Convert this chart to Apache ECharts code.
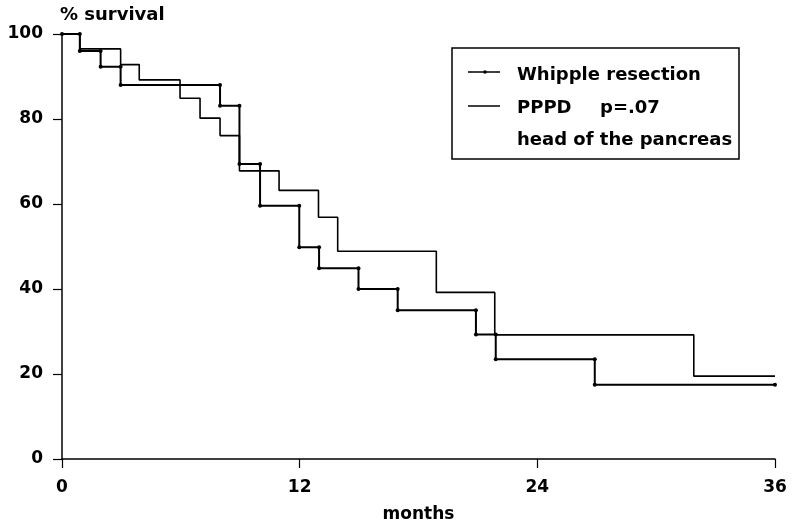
<!DOCTYPE html>
<html>
<head>
<meta charset="utf-8">
<script src="https://cdn.jsdelivr.net/npm/echarts@6/dist/echarts.min.js"></script>
<style>html,body{margin:0;padding:0;background:#fff;}#c{width:792px;height:528px;}</style>
</head>
<body>
<div id="c"></div>
<script>
// Kaplan-Meier step data: event times (months) and survival (%) after each step
const whippleMonths   = [0, 0.9, 1.95, 2.96, 7.98, 8.96, 10.0, 11.98, 12.98, 14.97, 16.95, 20.9, 21.9, 26.9];
const whippleSurvival = [100, 96, 92.3, 88, 83.1, 69.4, 59.6, 49.8, 44.9, 40, 35, 29.3, 23.5, 17.5];
const whippleEnd = 36;

const ppdMonths   = [0, 0.9, 2.96, 3.9, 5.96, 6.97, 7.98, 8.96, 10.96, 12.95, 13.92, 18.9, 21.85, 31.9];
const ppdSurvival = [100, 96.5, 92.8, 89.2, 84.9, 80.2, 76.1, 67.8, 63.2, 56.9, 48.9, 39.2, 29.2, 19.5];
const ppdEnd = 36;

const xTicks = [0, 12, 24, 36];
const yTicks = [0, 20, 40, 60, 80, 100];

const legendLabels = ['Whipple resection', 'PPPD', 'p=.07', 'head of the pancreas'];
const yTitle = '% survival';
const xTitle = 'months';

function stepPoints(times, surv, end) {
  const pts = [];
  for (let i = 0; i < times.length; i++) {
    if (i > 0) pts.push([times[i], surv[i - 1]]);
    pts.push([times[i], surv[i]]);
  }
  pts.push([end, surv[surv.length - 1]]);
  return pts;
}

const FONT = 'DejaVu Sans';
const txt = { fontFamily: FONT, fontWeight: 'bold', fontSize: 17, color: '#000' };
const legendFont = 'bold 18px "DejaVu Sans"';

const chart = echarts.init(document.getElementById('c'), null, { renderer: 'canvas' });
chart.setOption({
  backgroundColor: '#fff',
  animation: false,
  grid: { left: 62, right: 17, top: 34, bottom: 68, containLabel: false },
  xAxis: {
    type: 'value', min: xTicks[0], max: xTicks[xTicks.length - 1], interval: 12,
    name: xTitle, nameLocation: 'middle', nameGap: 47,
    nameTextStyle: txt,
    axisLine: { show: true, onZero: false, lineStyle: { color: '#000', width: 1.5 } },
    axisTick: { show: true, length: 9, lineStyle: { color: '#000', width: 1.2 } },
    axisLabel: Object.assign({ margin: 20 }, txt),
    splitLine: { show: false }
  },
  yAxis: {
    type: 'value', min: yTicks[0], max: yTicks[yTicks.length - 1], interval: 20,
    name: yTitle, nameLocation: 'end', nameGap: 10,
    nameTextStyle: Object.assign({ align: 'left', verticalAlign: 'bottom', padding: [0, 0, 0, -2] }, txt, { fontSize: 18 }),
    axisLine: { show: true, lineStyle: { color: '#000', width: 1.5 } },
    axisTick: { show: true, length: 9, lineStyle: { color: '#000', width: 1.2 } },
    axisLabel: Object.assign({ margin: 19 }, txt),
    splitLine: { show: false }
  },
  series: [
    {
      name: legendLabels[1], type: 'line',
      data: stepPoints(ppdMonths, ppdSurvival, ppdEnd),
      showSymbol: false, symbol: 'none',
      lineStyle: { color: '#000', width: 1.6 },
      z: 2
    },
    {
      name: legendLabels[0], type: 'line',
      data: stepPoints(whippleMonths, whippleSurvival, whippleEnd),
      symbol: 'circle', symbolSize: 4, showSymbol: true, showAllSymbol: true,
      itemStyle: { color: '#000' },
      lineStyle: { color: '#000', width: 2 },
      z: 3
    }
  ],
  graphic: [
    { type: 'rect', shape: { x: 452, y: 48, width: 287, height: 111 },
      style: { fill: '#fff', stroke: '#000', lineWidth: 1.5 }, z: 10 },
    { type: 'line', shape: { x1: 468, y1: 72, x2: 500, y2: 72 }, style: { stroke: '#000', lineWidth: 1.5 }, z: 11 },
    { type: 'circle', shape: { cx: 485, cy: 72, r: 1.8 }, style: { fill: '#000' }, z: 11 },
    { type: 'line', shape: { x1: 468, y1: 106, x2: 500, y2: 106 }, style: { stroke: '#000', lineWidth: 1.5 }, z: 11 },
    { type: 'text', x: 517, y: 75, style: { text: legendLabels[0], verticalAlign: 'middle', fill: '#000', font: legendFont }, z: 11 },
    { type: 'text', x: 517, y: 108, style: { text: legendLabels[1], verticalAlign: 'middle', fill: '#000', font: legendFont }, z: 11 },
    { type: 'text', x: 600, y: 108, style: { text: legendLabels[2], verticalAlign: 'middle', fill: '#000', font: legendFont }, z: 11 },
    { type: 'text', x: 517, y: 140, style: { text: legendLabels[3], verticalAlign: 'middle', fill: '#000', font: legendFont }, z: 11 }
  ]
});
</script>
</body>
</html>
